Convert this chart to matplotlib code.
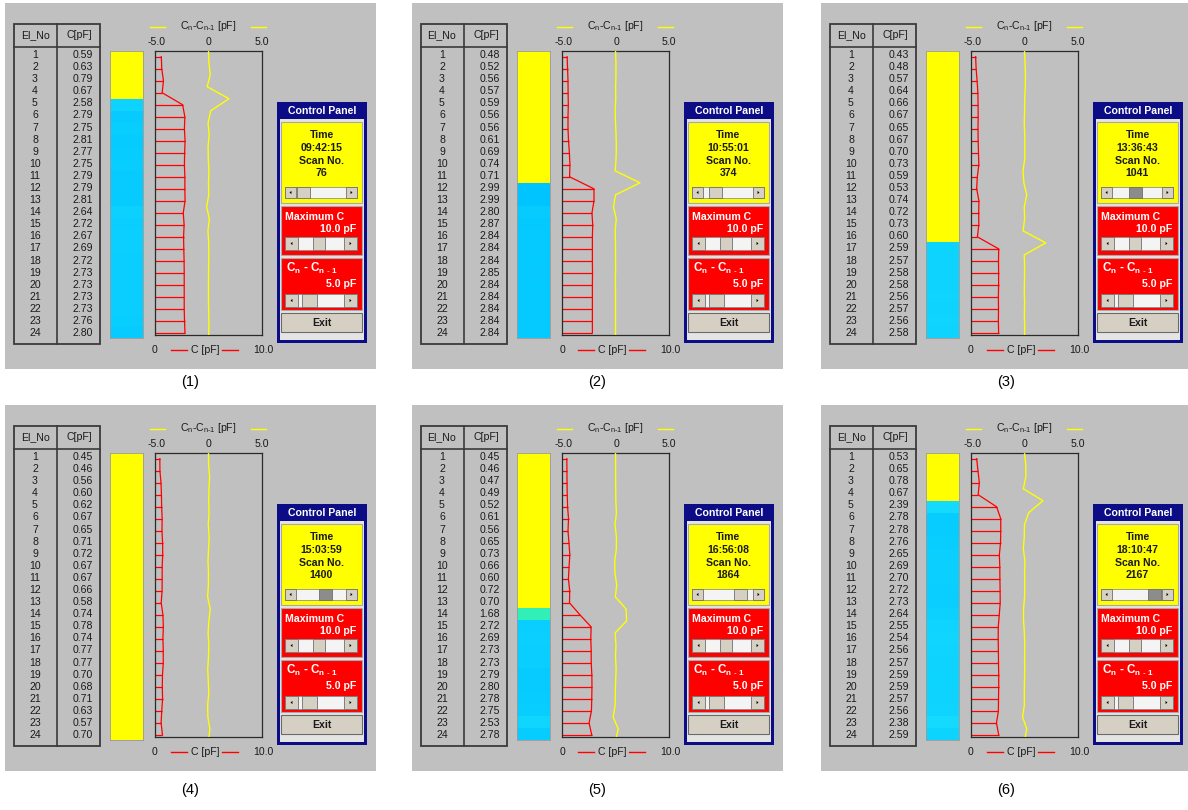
import numpy as np
import matplotlib
matplotlib.use('Agg')
import matplotlib.pyplot as plt
from matplotlib.patches import Rectangle, Polygon
from matplotlib.colors import LinearSegmentedColormap, Normalize

plt.rcParams['font.family'] = ['Liberation Sans', 'DejaVu Sans']
plt.rcParams['mathtext.fontset'] = 'custom'
plt.rcParams['mathtext.rm'] = 'Liberation Sans'
plt.rcParams['mathtext.bf'] = 'Liberation Sans:bold'
plt.rcParams['mathtext.default'] = 'regular'

# ---------------- data ----------------
electrodes = list(range(1, 25))

c_scan1 = [0.59, 0.63, 0.79, 0.67, 2.58, 2.79, 2.75, 2.81, 2.77, 2.75, 2.79, 2.79,
           2.81, 2.64, 2.72, 2.67, 2.69, 2.72, 2.73, 2.73, 2.73, 2.73, 2.76, 2.80]
c_scan2 = [0.48, 0.52, 0.56, 0.57, 0.59, 0.56, 0.56, 0.61, 0.69, 0.74, 0.71, 2.99,
           2.99, 2.80, 2.87, 2.84, 2.84, 2.84, 2.85, 2.84, 2.84, 2.84, 2.84, 2.84]
c_scan3 = [0.43, 0.48, 0.57, 0.64, 0.66, 0.67, 0.65, 0.67, 0.70, 0.73, 0.59, 0.53,
           0.74, 0.72, 0.73, 0.60, 2.59, 2.57, 2.58, 2.58, 2.56, 2.57, 2.56, 2.58]
c_scan4 = [0.45, 0.46, 0.56, 0.60, 0.62, 0.67, 0.65, 0.71, 0.72, 0.67, 0.67, 0.66,
           0.58, 0.74, 0.78, 0.74, 0.77, 0.77, 0.70, 0.68, 0.71, 0.63, 0.57, 0.70]
c_scan5 = [0.45, 0.46, 0.47, 0.49, 0.52, 0.61, 0.56, 0.65, 0.73, 0.66, 0.60, 0.72,
           0.70, 1.68, 2.72, 2.69, 2.73, 2.73, 2.79, 2.80, 2.78, 2.75, 2.53, 2.78]
c_scan6 = [0.53, 0.65, 0.78, 0.67, 2.39, 2.78, 2.78, 2.76, 2.65, 2.69, 2.70, 2.72,
           2.73, 2.64, 2.55, 2.54, 2.56, 2.57, 2.59, 2.59, 2.57, 2.56, 2.38, 2.59]

times = ["09:42:15", "10:55:01", "13:36:43", "15:03:59", "16:56:08", "18:10:47"]
scan_numbers = [76, 374, 1041, 1400, 1864, 2167]
captions = ["(1)", "(2)", "(3)", "(4)", "(5)", "(6)"]
max_c = 10.0          # pF, full scale of C axis
diff_range = 5.0      # pF, full scale of Cn - Cn-1 axis
scan_max = 2250

# ---------------- layout ----------------
W, H = 1188, 810
fig = plt.figure(figsize=(W / 100, H / 100), dpi=100)
fig.patch.set_facecolor('white')
bg = fig.add_axes([0, 0, 1, 1])
bg.set_xlim(0, W)
bg.set_ylim(H, 0)
bg.axis('off')

GRAY = '#C0C0C0'
NAVY = '#0C0C86'
RED = '#FF0000'
YEL = '#FFFF00'
BTN = '#D6D0C4'
TXT = '#1A1A1A'
FS = 7.6

bar_cmap = LinearSegmentedColormap.from_list(
    'level', [(0.0, '#FFFF00'), (0.40, '#FFFF00'), (0.50, '#30F0B8'),
              (0.62, '#30F0B8'), (0.78, '#16DCFF'), (1.0, '#00C4FF')])
bar_norm = Normalize(0, 3.0)


def ax_at(x0, y0, x1, y1):
    return fig.add_axes([x0 / W, 1 - y1 / H, (x1 - x0) / W, (y1 - y0) / H])


def rect(x0, y0, x1, y1, fc, ec='none', lw=0.8, z=1):
    bg.add_patch(Rectangle((x0, y0), x1 - x0, y1 - y0, fc=fc, ec=ec, lw=lw, zorder=z))


def scrollbar(x0, x1, yc, h, t0, t1, thumb_fc):
    y0, y1 = yc - h / 2, yc + h / 2
    rect(x0, y0, x1, y1, '#F4F4F4', '#909090', 0.6, 3)
    rect(x0, y0, x0 + h, y1, BTN, '#707070', 0.6, 4)
    rect(x1 - h, y0, x1, y1, BTN, '#707070', 0.6, 4)
    s = 1.6
    bg.add_patch(Polygon([(x0 + h / 2 + s * 0.6, yc - s), (x0 + h / 2 + s * 0.6, yc + s),
                          (x0 + h / 2 - s * 0.6, yc)], closed=True, fc='black', ec='none', zorder=5))
    bg.add_patch(Polygon([(x1 - h / 2 - s * 0.6, yc - s), (x1 - h / 2 - s * 0.6, yc + s),
                          (x1 - h / 2 + s * 0.6, yc)], closed=True, fc='black', ec='none', zorder=5))
    rect(t0, y0, t1, y1, thumb_fc, '#707070', 0.6, 4)


def draw_panel(k, values, tstr, scan, caption):
    ox = [0, 407, 816][k % 3]
    oy = [0, 402][k // 3]
    X = lambda x: x + ox
    Y = lambda y: y + oy

    # panel background
    rect(X(5), Y(3), X(376), Y(369), GRAY)

    # ---- table ----
    rect(X(14), Y(24), X(100), Y(344), 'none', '#3A3A3A', 1.3, 2)
    bg.plot([X(14), X(100)], [Y(47), Y(47)], color='#3A3A3A', lw=1.2, zorder=2)
    bg.plot([X(57), X(57)], [Y(24), Y(344)], color='#3A3A3A', lw=1.2, zorder=2)
    bg.text(X(35), Y(35.5), 'El_No', ha='center', va='center', fontsize=FS, color=TXT)
    bg.text(X(79), Y(35.5), 'C[pF]', ha='center', va='center', fontsize=FS, color=TXT)
    for i, (e, v) in enumerate(zip(electrodes, values)):
        yy = Y(55 + i * 12.09)
        bg.text(X(35), yy, str(e), ha='center', va='center', fontsize=FS, color=TXT)
        bg.text(X(93), yy, f'{v:.2f}', ha='right', va='center', fontsize=FS, color=TXT)

    # ---- level colour bar ----
    axb = ax_at(X(110), Y(51), X(143), Y(338))
    axb.barh(electrodes, [1] * len(values), height=1.0, left=0,
             color=bar_cmap(bar_norm(np.array(values))), linewidth=0)
    axb.set_xlim(0, 1)
    axb.set_ylim(24.5, 0.5)
    axb.set_xticks([]); axb.set_yticks([])
    for sp in axb.spines.values():
        sp.set_color('#9A9A9A'); sp.set_linewidth(0.6)
    axb.patch.set_alpha(0)

    # ---- C profile (red) and difference (yellow) ----
    axc = ax_at(X(155), Y(51), X(262), Y(335))
    axc.patch.set_alpha(0)
    axc.hlines(electrodes, 0, values, color=RED, lw=0.9)
    axc.plot(values, electrodes, color=RED, lw=0.9)
    axc.set_xlim(0, max_c)
    axc.set_ylim(24.17, 0.525)
    axc.set_xticks([]); axc.set_yticks([])
    for sp in axc.spines.values():
        sp.set_color('#2A2A2A'); sp.set_linewidth(0.9)

    axd = axc.twiny()
    axd.patch.set_alpha(0)
    diffs = [0.0] + [values[i] - values[i - 1] for i in range(1, len(values))] + [0.0]
    ypos = [e - 0.5 for e in electrodes] + [electrodes[-1] + 0.5]
    axd.plot(diffs, ypos, color=YEL, lw=1.0)
    axd.set_xlim(-diff_range, diff_range)
    axd.set_xticks([]); axd.set_yticks([])
    for sp in axd.spines.values():
        sp.set_visible(False)

    # axis annotations
    bg.text(X(157), Y(42), f'-{diff_range:.1f}', ha='center', va='center', fontsize=FS, color=TXT)
    bg.text(X(209), Y(42), '0', ha='center', va='center', fontsize=FS, color=TXT)
    bg.text(X(262), Y(42), f'{diff_range:.1f}', ha='center', va='center', fontsize=FS, color=TXT)
    bg.plot([X(150), X(165)], [Y(27), Y(27)], color=YEL, lw=1.0)
    bg.plot([X(251), X(266)], [Y(27), Y(27)], color=YEL, lw=1.0)
    bg.text(X(208), Y(26), r'C$_{n}$-C$_{n\text{-}1}$ [pF]', ha='center', va='center',
            fontsize=FS, color=TXT)
    bg.text(X(155), Y(350), '0', ha='center', va='center', fontsize=FS, color=TXT)
    bg.plot([X(171), X(187)], [Y(350), Y(350)], color=RED, lw=1.0)
    bg.text(X(205), Y(350), 'C [pF]', ha='center', va='center', fontsize=FS, color=TXT)
    bg.plot([X(222), X(238)], [Y(350), Y(350)], color=RED, lw=1.0)
    bg.text(X(263), Y(350), f'{max_c:.1f}', ha='center', va='center', fontsize=FS, color=TXT)

    # ---- control panel ----
    rect(X(277), Y(102), X(367), Y(343), NAVY, z=2)
    rect(X(280), Y(119), X(364), Y(340), '#E4E4E4', z=2)
    bg.text(X(322), Y(110.5), 'Control Panel', ha='center', va='center', fontsize=FS,
            color='white', fontweight='bold', zorder=3)
    # time box
    rect(X(281), Y(122), X(362), Y(203), YEL, '#A8A8A8', 0.8, 2)
    for txt, yy in [('Time', 135), (tstr, 148), ('Scan No.', 161), (str(scan), 173)]:
        bg.text(X(321.5), Y(yy), txt, ha='center', va='center', fontsize=FS,
                color=TXT, fontweight='bold', zorder=3)
    tw = 13
    t0 = 296 + scan / scan_max * (346 - 296 - tw)
    thumb_col = BTN if scan < 900 or 1500 < scan < 2000 else '#8C8C8C'
    scrollbar(X(285), X(357), Y(192.5), 11, X(t0), X(t0 + tw), thumb_col)
    # max C box
    rect(X(281), Y(206), X(362), Y(255), RED, '#A8A8A8', 0.8, 2)
    bg.text(X(285), Y(217), 'Maximum C', ha='left', va='center', fontsize=FS,
            color='white', fontweight='bold', zorder=3)
    bg.text(X(356), Y(229), f'{max_c:.1f} pF', ha='right', va='center', fontsize=FS,
            color='white', fontweight='bold', zorder=3)
    scrollbar(X(285), X(357), Y(243.5), 13, X(313), X(325), BTN)
    # difference box
    rect(X(281), Y(258), X(362), Y(310), RED, '#A8A8A8', 0.8, 2)
    bg.text(X(286), Y(268), r'C$_{\mathbf{n}}$ - C$_{\mathbf{n}\ \text{-}\ \mathbf{1}}$',
            ha='left', va='center', fontsize=FS + 0.8, color='white', fontweight='bold',
            zorder=3)
    bg.text(X(356), Y(284), f'{diff_range:.1f} pF', ha='right', va='center', fontsize=FS,
            color='white', fontweight='bold', zorder=3)
    scrollbar(X(285), X(357), Y(300.5), 13, X(302), X(317), BTN)
    # exit button
    rect(X(281), Y(313), X(362), Y(332), BTN, '#6A6A6A', 0.8, 2)
    bg.text(X(321.5), Y(322.5), 'Exit', ha='center', va='center', fontsize=FS,
            color=TXT, fontweight='bold', zorder=3)

    # caption
    cy = [382, 790][k // 3]
    bg.text(X(190.5), cy, caption, ha='center', va='center', fontsize=10.5, color='black')


all_scans = [c_scan1, c_scan2, c_scan3, c_scan4, c_scan5, c_scan6]
for k in range(6):
    draw_panel(k, all_scans[k], times[k], scan_numbers[k], captions[k])

fig.savefig('out.png', dpi=100, facecolor='white')
